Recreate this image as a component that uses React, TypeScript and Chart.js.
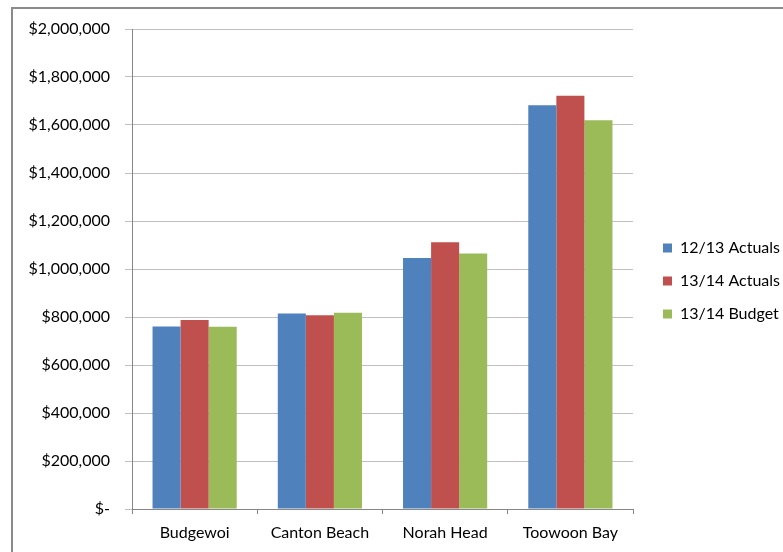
import React, { useEffect, useRef } from "react";
import { Chart, registerables } from "chart.js";

Chart.register(...registerables);

const categories = ["Budgewoi", "Canton Beach", "Norah Head", "Toowoon Bay"];
const actuals1213 = [760000, 815000, 1046000, 1682000];
const actuals1314 = [788000, 807000, 1111000, 1722000];
const budget1314 = [759000, 818000, 1065000, 1620000];
const seriesNames = ["12/13 Actuals", "13/14 Actuals", "13/14 Budget"];
const seriesColors = ["#4F81BD", "#C0504D", "#9BBB59"];
const yMin = 0;
const yMax = 2000000;
const yStep = 200000;

const FONT = "Lato, Roboto, 'Liberation Sans', sans-serif";
const FONT_SIZE = 16;
const LEGEND_PAD = 17;
const LEGEND_BOX = 9;
const LEGEND_LEFT = 646;
const W = 783;
const H = 552;

const borderPlugin = {
  id: "outerBorder",
  beforeDraw(chart: any) {
    const ctx = chart.ctx;
    ctx.save();
    ctx.fillStyle = "#ffffff";
    ctx.fillRect(0, 0, chart.width, chart.height);
    ctx.fillStyle = "#8a8a8a";
    ctx.fillRect(11, 7, chart.width, 2);
    ctx.fillRect(11, 7, 2, chart.height);
    ctx.restore();
  },
};

const legendWidthPlugin = {
  id: "legendWidth",
  beforeLayout(chart: any) {
    const lg = chart.legend;
    if (!lg || lg.__patched) return;
    const orig = lg.fit;
    lg.fit = function () {
      orig.call(this);
      this.width = W - LEGEND_LEFT;
    };
    lg.__patched = true;
  },
};

export default function App() {
  const ref = useRef<HTMLCanvasElement | null>(null);

  useEffect(() => {
    if (!ref.current) return;

    const chart = new Chart(ref.current, {
      type: "bar",
      data: {
        labels: categories,
        datasets: [actuals1213, actuals1314, budget1314].map((d, i) => ({
          label: seriesNames[i],
          data: d,
          backgroundColor: seriesColors[i],
          borderWidth: 0,
          categoryPercentage: 0.672,
          barPercentage: 1,
          xAxisID: "x",
          yAxisID: "y",
        })),
      },
      options: {
        animation: false,
        responsive: false,
        maintainAspectRatio: false,
        layout: { padding: { left: 0, top: 10, right: 0, bottom: 0 } },
        plugins: {
          tooltip: { enabled: false },
          legend: {
            position: "right",
            labels: {
              boxWidth: LEGEND_BOX,
              boxHeight: LEGEND_BOX,
              padding: LEGEND_PAD,
              color: "#000000",
              font: { family: FONT, size: FONT_SIZE },
            },
          },
        },
        scales: {
          x: {
            type: "category",
            position: "bottom",
            grid: {
              display: true,
              offset: true,
              drawOnChartArea: false,
              drawTicks: true,
              tickLength: 5,
              color: "#868686",
            },
            border: { display: true, color: "#868686", width: 1 },
            ticks: {
              color: "#000000",
              padding: 9,
              font: { family: FONT, size: FONT_SIZE },
              maxRotation: 0,
            },
            afterFit: (s: any) => {
              s.height = 43;
            },
          },
          xTop: {
            type: "category",
            position: "top",
            display: true,
            grid: { display: false },
            border: { display: false },
            ticks: { display: false },
            afterFit: (s: any) => {
              s.height = 19;
            },
          },
          y: {
            type: "linear",
            position: "left",
            min: yMin,
            max: yMax,
            grid: {
              color: "#c0c0c0",
              tickLength: 7,
              drawTicks: true,
            },
            border: { display: true, color: "#868686", width: 1 },
            ticks: {
              stepSize: yStep,
              padding: 15,
              color: "#000000",
              font: { family: FONT, size: FONT_SIZE },
              callback: (v: any) =>
                Number(v) === 0 ? "$-" : "$" + Number(v).toLocaleString("en-US"),
            },
            afterFit: (s: any) => {
              s.width = 132;
            },
          },
          yRight: {
            type: "linear",
            position: "right",
            display: true,
            min: yMin,
            max: yMax,
            grid: { display: false },
            border: { display: false },
            ticks: { display: false },
            afterFit: (s: any) => {
              s.width = 13;
            },
          },
        },
      },
      plugins: [borderPlugin, legendWidthPlugin],
    });
    return () => chart.destroy();
  }, []);

  return (
    <div style={{ position: "fixed", left: 0, top: 0, width: W, height: H }}>
      <canvas ref={ref} width={W} height={H} style={{ display: "block", width: W, height: H }} />
    </div>
  );
}
